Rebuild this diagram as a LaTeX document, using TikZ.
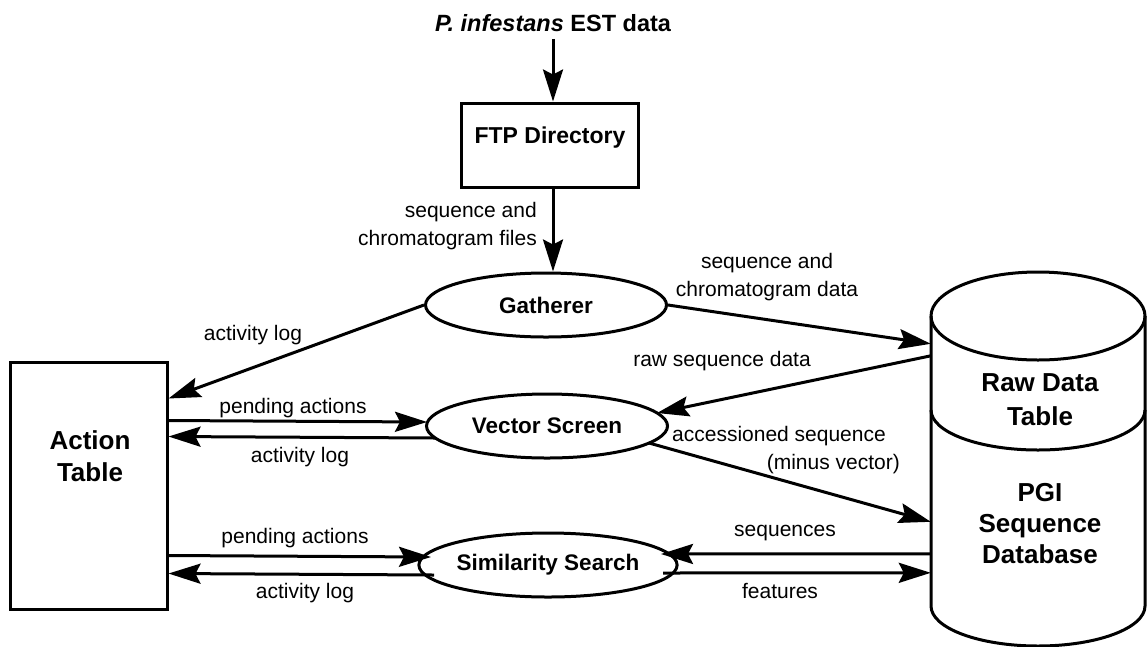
\documentclass[tikz,border=0pt]{standalone}
\usepackage{fontspec}
\setmainfont{Liberation Sans}
\usetikzlibrary{arrows.meta,shapes.geometric,calc}
\begin{document}
\begin{tikzpicture}[x=1pt,y=-1pt,
  lw/.style={line width=3pt},
  arr/.style={lw, -{Stealth[length=32pt,width=20pt,inset=5pt]}},
  lbl/.style={font=\fontsize{21}{28}\selectfont, inner sep=0pt, align=center},
  btxt/.style={font=\fontsize{22.5}{32}\selectfont\bfseries, inner sep=0pt, align=center},
  bigtxt/.style={font=\fontsize{26}{32}\selectfont\bfseries, inner sep=0pt, align=center},
  proc/.style={ellipse, lw, draw, minimum width=241pt, minimum height=64pt, inner sep=0pt, font=\fontsize{22.5}{32}\selectfont\bfseries},
  boxs/.style={draw, lw, rectangle, inner sep=0pt},
]
\useasboundingbox (0,0) rectangle (1147,646);

% source and FTP directory
\node[font=\fontsize{23.5}{28}\selectfont\bfseries, inner sep=0pt] (src) at (553,23) {\textit{P. infestans} EST data};
\node[boxs, minimum width=177pt, minimum height=84pt] (ftp) at (550,145) {};
\node[btxt, font=\fontsize{23}{32}\selectfont\bfseries] (ftptxt) at (550,138) {FTP Directory};

% processes
\node[proc] (gat) at (546,305) {Gatherer};
\node[proc] (vs) at (547,426) {Vector Screen};
\node[proc] (ss) at (548,565) {Similarity Search};

% action table
\node[boxs, minimum width=157pt, minimum height=247pt] (at) at (88.5,485.5) {};
\node[bigtxt] (attxt) at (90,456) {Action\\Table};

% database cylinder
\draw[lw] (1038,316) ellipse [x radius=107, y radius=44];
\draw[lw] (931,316) -- (931,606) arc[start angle=180, end angle=0, x radius=107, y radius=40] -- (1145,316);
\draw[lw] (931,410) arc[start angle=180, end angle=0, x radius=107, y radius=40];
\node[minimum width=214pt, minimum height=290pt, inner sep=0pt] (db) at (1038,461) {};
\node[bigtxt, font=\fontsize{26}{34}\selectfont\bfseries] (raw) at (1040,400) {Raw Data\\Table};
\node[bigtxt, font=\fontsize{26}{31}\selectfont\bfseries] (pgi) at (1040,524) {PGI\\Sequence\\Database};

% vertical arrows
\draw[arr, shorten <=7pt] (src.south) -- (src.south |- ftp.north);
\draw[arr] (ftp.south -| src.south) -- (src.south |- gat.north);
\node[lbl, align=right, anchor=east] (l1) at (537,226) {sequence and\\chromatogram files};

% left connectors
\draw[arr] (gat.west) -- ($(at.north east)+(0,38)$);
\draw[arr] ($(at.north east)+(0,60)$) -- ($(vs.center)+(-120,-4)$);
\draw[arr] ($(vs.center)+(-112,12)$) -- ($(at.north east)+(0,76)$);
\draw[arr] ($(at.north east)+(0,195)$) -- ($(ss.center)+(-117,-8)$);
\draw[arr] ($(ss.center)+(-114,10)$) -- ($(at.north east)+(0,213)$);
\node[lbl] (l2) at (253,335) {activity log};
\node[lbl] (l3) at (293,408) {pending actions};
\node[lbl] (l4) at (300,457) {activity log};
\node[lbl] (l5) at (295,538) {pending actions};
\node[lbl] (l6) at (305,593) {activity log};

% right connectors
\draw[arr] (gat.east) -- ($(db.north west)+(0,28)$);
\draw[arr] ($(db.north west)+(0,40)$) -- ($(vs.center)+(110,-13)$);
\draw[arr] ($(vs.center)+(102,17)$) -- ($(db.north west)+(0,206)$);
\draw[arr] ($(db.north west)+(0,238)$) -- ($(ss.center)+(113,-11)$);
\draw[arr] ($(ss.center)+(115,8)$) -- ($(db.north west)+(0,257)$);
\node[lbl] (l7) at (767,277) {sequence and\\chromatogram data};
\node[lbl] (l8) at (722,361) {raw sequence data};
\node[lbl, align=right, anchor=east] (l9) at (900,450) {accessioned sequence\hspace*{14pt}\\(minus vector)};
\node[lbl] (l10) at (785,533) {sequences};
\node[lbl] (l11) at (780,591) {features};
\end{tikzpicture}
\end{document}
